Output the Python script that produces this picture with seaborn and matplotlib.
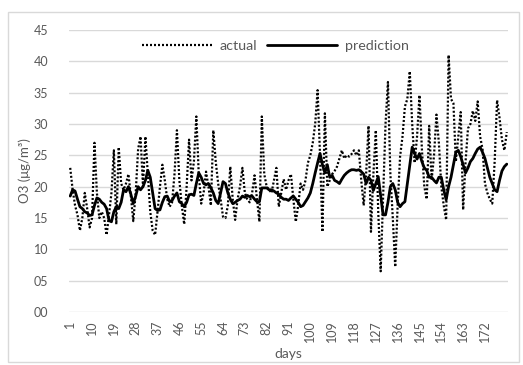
import matplotlib
matplotlib.use("Agg")
import matplotlib.pyplot as plt
import seaborn as sns
import pandas as pd
from matplotlib.patches import Rectangle

actual = [
    23, 19.5, 17, 15.5, 13, 15, 19, 16.5, 13.5, 15,
    27, 19, 15, 16, 15, 12.3, 15.5, 19, 25.8, 14,
    26.3, 20.5, 19.5, 20.5, 22, 18.5, 14.5, 19, 26, 28,
    20, 28, 22, 16, 13, 12.3, 16, 20, 23.5, 21,
    18, 16.8, 17.5, 22, 29, 21, 17, 14, 20, 27.5,
    21, 24, 31.2, 22, 17.3, 19, 22.4, 20, 17, 29,
    24, 20.5, 18, 15.2, 15, 17, 23.2, 18, 14.7, 18,
    20, 23, 19, 18, 17.5, 19, 21.8, 18, 14.4, 31.2,
    22, 20, 19.5, 19, 21, 23, 16.8, 19, 21.2, 19.5,
    21, 22, 18, 14.4, 17, 20.5, 19.5, 21, 23.8, 25,
    27, 30, 35.4, 25, 12.8, 31.7, 20, 21, 22, 22.5,
    23.2, 24.5, 25.8, 24.5, 25, 24.8, 25.2, 25.8, 25, 25.8,
    21, 17, 22, 29.7, 12.8, 22, 29, 16, 6.5, 18,
    30, 36.7, 22, 15, 7.2, 17, 24.8, 28, 32.8, 34,
    38.4, 30, 23.8, 28, 34.6, 26, 20, 18, 29.7, 21,
    25, 31.5, 27, 20, 17, 14.7, 41, 34, 33.3, 24,
    28, 31.9, 16.3, 24, 29.3, 30, 32.1, 30.5, 33.6, 28,
    26, 20.5, 19, 18, 17.3, 24, 33.8, 31, 27.5, 25.8,
    28.7,
]

prediction = [
    18.5, 19.5, 19.3, 18, 16.8, 16.5, 16, 15.8, 15.4, 15.5,
    17, 18.2, 18, 17.5, 17.2, 16.5, 14.6, 14.4, 16, 16.8,
    16.5, 17.5, 19.5, 19.2, 20, 18.8, 17.3, 18.5, 20, 19.5,
    20, 21, 22.6, 21.5, 19, 16.5, 16.2, 16.3, 17.5, 18.4,
    18.5, 17.6, 17.8, 18.5, 19, 17.6, 17.3, 16.8, 17.5, 18.7,
    18.8, 18.6, 20.5, 22.2, 21.5, 20.5, 20.3, 20.5, 19.8, 19,
    17.8, 17.3, 19, 20.8, 20.5, 19, 18, 17.3, 17.5, 17.8,
    18, 18.5, 18.3, 18.6, 18.4, 18.5, 18, 17.6, 17.6, 19.8,
    19.8, 19.8, 19.5, 19.5, 19.3, 19, 18.8, 18.3, 18, 18,
    17.8, 18.2, 18.5, 18, 17.5, 16.8, 17, 17.6, 18.2, 19,
    20.5, 22.2, 23.8, 25.3, 23.5, 22.2, 23.5, 21.5, 21.8, 21,
    20.8, 20.5, 21.2, 21.8, 22.2, 22.5, 22.7, 22.7, 22.6, 22.7,
    22.4, 22, 20.5, 21.5, 21, 19.4, 20.5, 21.6, 18.5, 15.5,
    15.5, 17.5, 20, 20.5, 19.5, 17.5, 16.8, 17.3, 17.6, 20.5,
    23.5, 26.3, 25.3, 24.4, 25.3, 24, 23, 22.6, 21.5, 21.5,
    21, 20.6, 21.5, 21.5, 19.5, 17.9, 20, 21.5, 23.5, 25.5,
    25.8, 24.8, 23.5, 22.2, 23, 24, 24.5, 25.3, 26, 26.3,
    25.5, 24.5, 23, 21.5, 20.5, 19.5, 19.2, 21, 22.5, 23.2,
    23.6,
]

days = list(range(1, len(actual) + 1))
xtick_days = list(range(1, 181, 9))
ytick_vals = list(range(0, 50, 5))
ytick_labels = [f"{v:02d}" for v in ytick_vals]

sns.set_style("white")
plt.rcParams["font.family"] = ["Lato", "DejaVu Sans"]

df = pd.DataFrame({"days": days + days,
                   "value": actual + prediction,
                   "series": ["actual"] * len(actual) + ["prediction"] * len(prediction)})

fig = plt.figure(figsize=(5.23, 3.65), dpi=100)
ax = fig.add_axes([69 / 523, 1 - 312 / 365, (508 - 69) / 523, (312 - 30) / 365])

sns.lineplot(data=df[df.series == "actual"], x="days", y="value", ax=ax,
             color="black", linewidth=1.6, linestyle=(0, (0.9, 0.9)),
             label="actual", legend=False)
sns.lineplot(data=df[df.series == "prediction"], x="days", y="value", ax=ax,
             color="black", linewidth=2.0, label="prediction", legend=False)

ax.set_xlim(0.5, len(days) + 0.5)
ax.set_ylim(0, 45)
ax.set_yticks(ytick_vals)
ax.set_yticklabels(ytick_labels)
ax.set_xticks(xtick_days)
ax.set_xticklabels([str(d) for d in xtick_days], rotation=90)
ax.tick_params(axis="both", length=0, labelsize=9, colors="#595959")
ax.tick_params(axis="y", pad=15)
ax.tick_params(axis="x", pad=6)
ax.grid(axis="y", color="#d9d9d9", linewidth=1.0)
ax.set_axisbelow(True)
for s in ax.spines.values():
    s.set_visible(False)

ax.set_xlabel("days", fontsize=10, color="#595959", labelpad=4)
ax.set_ylabel("O3 (μg/m³)", fontsize=9.5, color="#595959", labelpad=2)

leg = ax.legend(loc="center", bbox_to_anchor=(0.47, 0.943), ncol=2, frameon=False,
                fontsize=10.3, handlelength=4.9, columnspacing=0.7, handletextpad=0.55)
for t in leg.get_texts():
    t.set_color("#595959")

fig.patches.append(Rectangle((8 / 523, 3 / 365), 511 / 523, 350 / 365,
                             transform=fig.transFigure, fill=False,
                             edgecolor="#d9d9d9", linewidth=1.0))

fig.savefig("out.png", dpi=100)
